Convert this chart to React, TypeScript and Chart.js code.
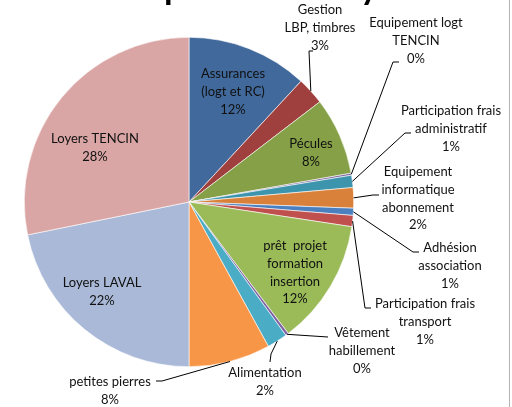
import React, { useEffect, useRef } from "react";
import { Chart, ArcElement, PieController } from "chart.js";

Chart.register(ArcElement, PieController);

const titleText = "Dépenses du foyer";

const categories = [
  "Assurances (logt et RC)",
  "Gestion LBP, timbres",
  "Pécules",
  "Equipement logt TENCIN",
  "Participation frais administratif",
  "Equipement informatique abonnement",
  "Adhésion association",
  "Participation frais transport",
  "prêt projet formation insertion",
  "Vêtement habillement",
  "Alimentation",
  "petites pierres",
  "Loyers LAVAL",
  "Loyers TENCIN",
];

const values = [11.9, 2.7, 7.6, 0.2, 1.2, 2.0, 0.7, 1.1, 12.3, 0.3, 2.0, 8.0, 21.8, 28.2];

const labelLines = [
  ["Assurances", "(logt et RC)"],
  ["Gestion", "LBP, timbres"],
  ["Pécules"],
  ["Equipement logt", "TENCIN"],
  ["Participation frais", "administratif"],
  ["Equipement", "informatique", "abonnement"],
  ["Adhésion", "association"],
  ["Participation frais", "transport"],
  ["prêt  projet", "formation", "insertion"],
  ["Vêtement", "habillement"],
  ["Alimentation"],
  ["petites pierres"],
  ["Loyers LAVAL"],
  ["Loyers TENCIN"],
];

const colors = [
  "#41699B",
  "#A0403E",
  "#85A047",
  "#7E63A0",
  "#3C95AD",
  "#D9813A",
  "#4A7FC0",
  "#C0504D",
  "#9BBB59",
  "#8064A2",
  "#4BACC6",
  "#F79646",
  "#A9B9D7",
  "#D9A6A5",
];

// label layout: center x, first-line middle y, leader elbow points (none = inside label)
const labelLayout: { x: number; y: number; leader?: [number, number][] }[] = [
  { x: 233, y: 74 },
  { x: 320, y: 10, leader: [[309, 51], [313, 51]] },
  { x: 311, y: 144 },
  { x: 416, y: 23, leader: [[393, 62], [399, 62]] },
  { x: 451, y: 111, leader: [[405, 133], [411, 133]] },
  { x: 418, y: 172, leader: [[373, 195], [379, 195]] },
  { x: 450, y: 248, leader: [[413, 252], [419, 252]] },
  { x: 425, y: 304, leader: [[365, 308], [371, 308]] },
  { x: 295, y: 246 },
  { x: 362, y: 333, leader: [[328, 337]] },
  { x: 265, y: 373, leader: [[271, 354], [270, 362]] },
  { x: 110, y: 382, leader: [[162, 381], [156, 381]] },
  { x: 102, y: 283 },
  { x: 95, y: 139 },
];

const FONT = "13px Lato, 'Open Sans', sans-serif";
const LINE_H = 17.7;
const TEXT_COLOR = "#111111";

const labelPlugin = {
  id: "pieLabels",
  afterDraw(chart: any) {
    const ctx: CanvasRenderingContext2D = chart.ctx;
    const meta = chart.getDatasetMeta(0);
    const data: number[] = chart.data.datasets[0].data;
    const total = data.reduce((a, b) => a + b, 0);
    ctx.save();
    // title (mostly cut off at the top)
    ctx.font = "bold 35px Lato, 'Open Sans', sans-serif";
    ctx.fillStyle = "#000000";
    ctx.textAlign = "left";
    ctx.textBaseline = "alphabetic";
    ctx.fillText(titleText, 119, -1);

    meta.data.forEach((arc: any, i: number) => {
      const p = arc.getProps(["x", "y", "startAngle", "endAngle", "outerRadius"], true);
      const mid = (p.startAngle + p.endAngle) / 2;
      const ax = p.x + Math.cos(mid) * p.outerRadius;
      const ay = p.y + Math.sin(mid) * p.outerRadius;
      const lay = labelLayout[i];
      if (lay.leader) {
        ctx.strokeStyle = "#000000";
        ctx.lineWidth = 1;
        ctx.beginPath();
        ctx.moveTo(ax, ay);
        lay.leader.forEach(([lx, ly]) => ctx.lineTo(lx, ly));
        ctx.stroke();
      }
      const pct = Math.round((data[i] / total) * 100) + "%";
      const lines = [...labelLines[i], pct];
      ctx.font = FONT;
      ctx.fillStyle = TEXT_COLOR;
      ctx.textAlign = "center";
      ctx.textBaseline = "middle";
      lines.forEach((t, k) => ctx.fillText(t, lay.x, lay.y + k * LINE_H));
    });

    // right border of the chart frame
    ctx.strokeStyle = "#B4B4B4";
    ctx.lineWidth = 1;
    ctx.beginPath();
    ctx.moveTo(509.5, 0);
    ctx.lineTo(509.5, 407);
    ctx.stroke();
    ctx.restore();
  },
};

export default function App() {
  const ref = useRef<HTMLCanvasElement | null>(null);
  useEffect(() => {
    if (!ref.current) return;
    const chart = new Chart(ref.current, {
      type: "pie",
      data: {
        labels: categories,
        datasets: [
          {
            data: values,
            backgroundColor: colors,
            borderColor: "#FFFFFF",
            borderWidth: 0.6,
          },
        ],
      },
      options: {
        responsive: false,
        animation: false,
        layout: { padding: { left: 24, right: 158, top: 37, bottom: 40 } },
        plugins: { legend: { display: false }, tooltip: { enabled: false } },
      },
      plugins: [labelPlugin],
    });
    return () => chart.destroy();
  }, []);
  return (
    <div style={{ position: "absolute", left: 0, top: 0, width: 512, height: 407, background: "#fff" }}>
      <canvas ref={ref} width={512} height={407} style={{ display: "block" }} />
    </div>
  );
}
